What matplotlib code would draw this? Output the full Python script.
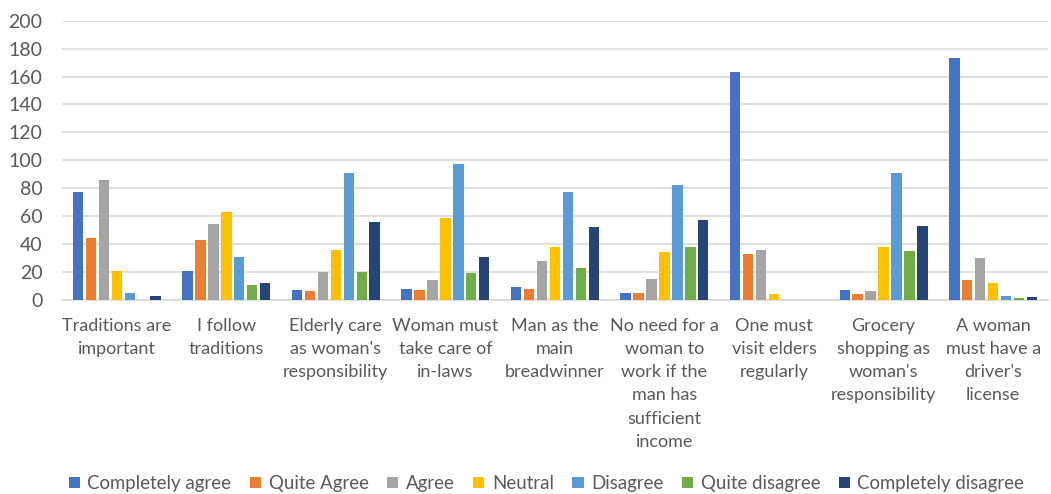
import numpy as np
import matplotlib.pyplot as plt

plt.rcParams['font.family'] = ['Lato', 'DejaVu Sans']

categories = ["Traditions are\nimportant", "I follow\ntraditions",
              "Elderly care\nas woman's\nresponsibility", "Woman must\ntake care of\nin-laws",
              "Man as the\nmain\nbreadwinner",
              "No need for a\nwoman to\nwork if the\nman has\nsufficient\nincome",
              "One must\nvisit elders\nregularly", "Grocery\nshopping as\nwoman's\nresponsibility",
              "A woman\nmust have a\ndriver's\nlicense"]

series = ["Completely agree", "Quite Agree", "Agree", "Neutral", "Disagree",
          "Quite disagree", "Completely disagree"]

completely_agree = [77, 21, 7, 8, 9, 5, 163, 7, 173]
quite_agree = [44, 43, 6, 7, 8, 5, 33, 4, 14]
agree = [86, 54, 20, 14, 28, 15, 36, 6, 30]
neutral = [21, 63, 36, 59, 38, 34, 4, 38, 12]
disagree = [5, 31, 91, 97, 77, 82, 0, 91, 3]
quite_disagree = [0, 11, 20, 19, 23, 38, 0, 35, 1]
completely_disagree = [3, 12, 56, 31, 52, 57, 0, 53, 2]

values = [completely_agree, quite_agree, agree, neutral, disagree,
          quite_disagree, completely_disagree]
colors = ['#4472C4', '#ED7D31', '#A5A5A5', '#FFC000', '#5B9BD5', '#70AD47', '#264478']

fig = plt.figure(figsize=(10.51, 4.94), dpi=100)
ax = fig.add_axes([0.059, 0.393, 0.938, 0.565])

x = np.arange(len(categories))
step = 0.118
width = 0.095
for i, (name, vals) in enumerate(zip(series, values)):
    ax.bar(x + (i - 3) * step, vals, width, color=colors[i], label=name, zorder=3)

ax.set_xlim(-0.5, len(categories) - 0.5)
ax.set_ylim(0, 200)
ax.set_yticks(range(0, 201, 20))
ax.grid(axis='y', color='#D9D9D9', linewidth=1.2, zorder=0)
for s in ['top', 'right', 'left']:
    ax.spines[s].set_visible(False)
ax.spines['bottom'].set_color('#D9D9D9')
ax.spines['bottom'].set_linewidth(1.2)
ax.tick_params(axis='both', length=0, colors='#595959')
ax.tick_params(axis='y', pad=14, labelsize=14)
ax.tick_params(axis='x', pad=13, labelsize=13)
ax.set_xticks(x)
ax.set_xticklabels(categories, linespacing=1.55)

fig.legend(loc='lower center', ncol=7, frameon=False, fontsize=13.4,
           bbox_to_anchor=(0.52, -0.03), handlelength=0.6, handleheight=0.6,
           handletextpad=0.4, columnspacing=1.0, labelcolor='#595959')

fig.savefig('out.png', dpi=100)
